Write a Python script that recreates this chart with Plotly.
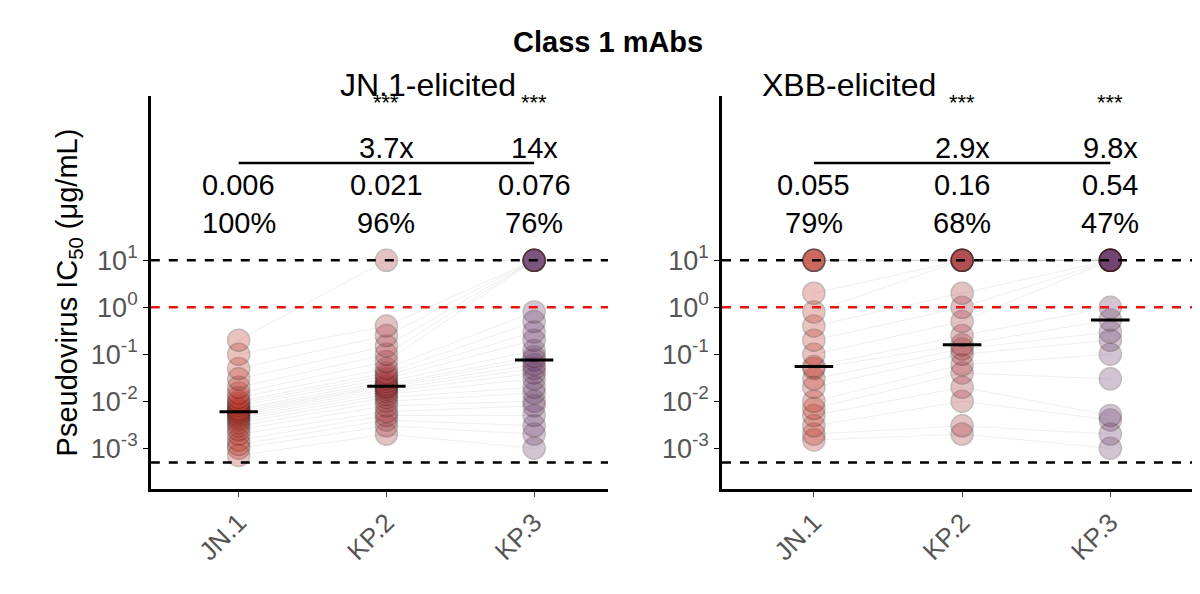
import plotly.graph_objects as go

variants = ["JN.1", "KP.2", "KP.3"]
colors = ["#c0392b", "#a93a3f", "#6e3f70"]

left_vals = {
    "JN.1": [0.0007,0.001,0.0012,0.0015,0.002,0.0025,0.003,0.0035,0.004,0.0045,0.005,0.0055,0.006,0.0065,0.007,0.008,0.009,0.01,0.012,0.015,0.02,0.03,0.05,0.1,0.2],
    "KP.2": [0.002,0.003,0.004,0.005,0.006,0.008,0.01,0.012,0.014,0.016,0.018,0.02,0.021,0.023,0.026,0.03,0.035,0.04,0.05,0.07,0.1,0.15,0.25,0.4,10],
    "KP.3": [0.001,0.002,0.003,0.005,0.008,0.01,0.015,0.02,0.03,0.04,0.05,0.06,0.076,0.09,0.12,0.2,0.3,0.5,0.8,10,10,10,10,10,10],
}
right_vals = {
    "JN.1": [0.0015,0.002,0.003,0.005,0.007,0.01,0.02,0.03,0.05,0.055,0.1,0.2,0.4,0.8,2,10,10,10,10],
    "KP.2": [0.002,0.003,0.01,0.02,0.04,0.06,0.1,0.13,0.16,0.25,0.5,1.0,2,10,10,10,10,10,10],
    "KP.3": [0.001,0.002,0.004,0.005,0.03,0.1,0.2,0.3,0.54,1.0,10,10,10,10,10,10,10,10,10],
}
left_medians = [0.006, 0.021, 0.076]
right_medians = [0.055, 0.16, 0.54]
left_median_txt = ["0.006", "0.021", "0.076"]
right_median_txt = ["0.055", "0.16", "0.54"]
left_pct = ["100%", "96%", "76%"]
right_pct = ["79%", "68%", "47%"]
left_fold = ["", "3.7x", "14x"]
right_fold = ["", "2.9x", "9.8x"]
sig = ["", "***", "***"]
panel_titles = ["JN.1-elicited", "XBB-elicited"]
hlines = [10, 0.0005]
threshold = 1

fig = go.Figure()
panels = [
    ("x", "y", left_vals, left_medians, left_median_txt, left_pct, left_fold, [-0.595, 2.5]),
    ("x2", "y2", right_vals, right_medians, right_median_txt, right_pct, right_fold, [-0.62, 2.57]),
]
for xa, ya, vals, meds, mtxt, pct, fold, xr in panels:
    n = len(vals["JN.1"])
    for k in range(n):
        fig.add_trace(go.Scatter(x=[0, 1, 2], y=[vals[v][k] for v in variants], mode="lines",
                                 line=dict(color="rgba(150,150,150,0.15)", width=1),
                                 xaxis=xa, yaxis=ya, showlegend=False, hoverinfo="skip"))
    for i, v in enumerate(variants):
        fig.add_trace(go.Scatter(x=[i]*len(vals[v]), y=vals[v], mode="markers",
                                 marker=dict(size=22, color=colors[i], opacity=0.3,
                                             line=dict(color="#3a1a1a", width=1.5)),
                                 xaxis=xa, yaxis=ya, showlegend=False))
    for hv in hlines:
        fig.add_trace(go.Scatter(x=xr, y=[hv, hv], mode="lines", line=dict(color="black", width=2.5, dash="dash"),
                                 xaxis=xa, yaxis=ya, showlegend=False))
    fig.add_trace(go.Scatter(x=xr, y=[threshold]*2, mode="lines", line=dict(color="#ee1111", width=2.5, dash="dash"),
                             xaxis=xa, yaxis=ya, showlegend=False))
    for i, m in enumerate(meds):
        fig.add_trace(go.Scatter(x=[i-0.13, i+0.13], y=[m, m], mode="lines", line=dict(color="black", width=3),
                                 xaxis=xa, yaxis=ya, showlegend=False))
    fig.add_trace(go.Scatter(x=[0, 2], y=[10**3.07]*2, mode="lines", line=dict(color="black", width=2.5),
                             xaxis=xa, yaxis=ya, showlegend=False))
    for i in range(3):
        for txt, yy, sz in [(pct[i], 1.8, 29), (mtxt[i], 2.6, 29), (fold[i], 3.4, 29), (sig[i], 4.35, 22)]:
            if txt:
                fig.add_annotation(x=i, y=yy, xref=xa, yref=ya, text=txt, showarrow=False,
                                   font=dict(size=sz, color="black"))

ticks = [0.001, 0.01, 0.1, 1, 10]
ticktext = ["10<sup>-3</sup>", "10<sup>-2</sup>", "10<sup>-1</sup>", "10<sup>0</sup>", "10<sup>1</sup>"]
yax = dict(type="log", range=[-3.87, 4.5], tickvals=ticks, ticktext=ticktext, showgrid=False, zeroline=False,
           showline=True, linecolor="black", linewidth=2.5, ticks="outside", tickcolor="black", ticklen=5,
           tickfont=dict(size=27, color="#555"))
xax = dict(tickvals=[0, 1, 2], ticktext=variants, showgrid=False, zeroline=False, showline=True,
           linecolor="black", linewidth=2.5, ticks="outside", ticklen=5, tickangle=-45,
           tickfont=dict(size=26, color="#555"))
fig.update_layout(
    width=1200, height=594, margin=dict(l=0, r=0, t=0, b=0),
    plot_bgcolor="white", paper_bgcolor="white", font=dict(family="Liberation Sans, Arial"),
    xaxis=dict(xax, domain=[0.119, 0.500], range=[-0.595, 2.5]),
    xaxis2=dict(xax, domain=[0.595, 0.989], range=[-0.62, 2.57], anchor="y2"),
    yaxis=dict(yax, domain=[0.19, 0.852], title=dict(text="Pseudovirus IC<sub>50</sub> (μg/mL)", font=dict(size=29, color="black"), standoff=5)),
    yaxis2=dict(yax, domain=[0.19, 0.852], anchor="x2"),
)
fig.add_annotation(x=0.5, y=1-16/594, xref="paper", yref="paper", text="<b>Class 1 mAbs</b>", showarrow=False,
                   font=dict(size=29, color="black"))
fig.add_annotation(x=330/1200, y=1-57/594, xref="paper", yref="paper", text=panel_titles[0], showarrow=False,
                   font=dict(size=32, color="black"))
fig.add_annotation(x=930/1200, y=1-57/594, xref="paper", yref="paper", text=panel_titles[1], showarrow=False,
                   font=dict(size=32, color="black"))
fig.write_html("out.html")
